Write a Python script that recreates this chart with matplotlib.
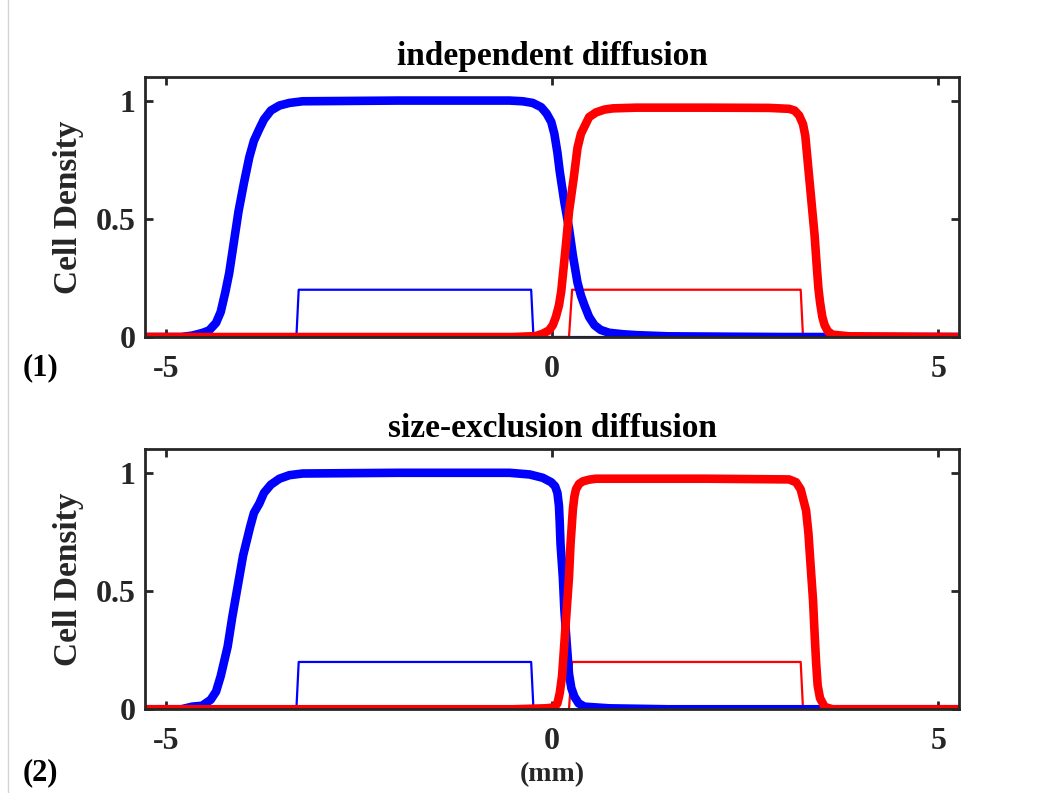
import matplotlib
matplotlib.use("Agg")
import matplotlib.pyplot as plt
from matplotlib.lines import Line2D

plt.rcParams['font.family'] = ['Liberation Serif', 'DejaVu Serif']
plt.rcParams['font.weight'] = 'bold'
plt.rcParams['axes.labelweight'] = 'bold'
plt.rcParams['axes.titleweight'] = 'bold'

# ---- data ----
titles = ["independent diffusion", "size-exclusion diffusion"]
panel_tags = ["(1)", "(2)"]
x_ticks = [-5, 0, 5]
y_ticks = [0, 0.5, 1]
y_tick_labels = ["0", "0.5", "1"]

# thin lines (initial profiles), same in both panels
thin_blue_x = [-5.27, -3.31, -3.28, -0.27, -0.24, 5.27]
thin_blue_y = [0, 0, 0.2, 0.2, 0, 0]
thin_red_x = [-5.27, 0.22, 0.26, 3.22, 3.25, 5.27]
thin_red_y = [0, 0, 0.2, 0.2, 0, 0]

# panel 1, thick lines
blue1_x = [-5.27, -4.80, -4.66, -4.53, -4.44, -4.35, -4.29, -4.23, -4.18, -4.12,
           -4.06, -3.99, -3.92, -3.86, -3.79, -3.73, -3.64, -3.53, -3.40, -3.23,
           -2.0, -1.0, -0.55, -0.38, -0.25, -0.14, -0.07, -0.01, 0.03, 0.07,
           0.10, 0.16, 0.22, 0.27, 0.33, 0.375, 0.42, 0.48, 0.55, 0.63,
           0.74, 0.91, 1.09, 1.5, 3.0, 5.27]
blue1_y = [0, 0, 0.006, 0.017, 0.028, 0.06, 0.106, 0.19, 0.27, 0.40,
           0.53, 0.65, 0.76, 0.83, 0.88, 0.92, 0.958, 0.979, 0.99, 0.997,
           1.0, 1.0, 1.0, 0.997, 0.99, 0.972, 0.945, 0.91, 0.86, 0.78,
           0.70, 0.57, 0.46, 0.345, 0.23, 0.175, 0.134, 0.085, 0.05, 0.03,
           0.018, 0.012, 0.008, 0.003, 0, 0]
red1_x = [-5.27, -0.5, -0.21, -0.12, -0.04, 0.01, 0.05, 0.09, 0.12, 0.14,
          0.18, 0.22, 0.28, 0.33, 0.375, 0.42, 0.48, 0.57, 0.68, 0.79,
          1.09, 2.0, 2.81, 3.07, 3.14, 3.20, 3.25, 3.28, 3.30, 3.32,
          3.36, 3.40, 3.43, 3.45, 3.47, 3.50, 3.53, 3.57, 3.63, 3.85, 5.27]
red1_y = [0, 0, 0.004, 0.014, 0.028, 0.05, 0.085, 0.134, 0.195, 0.26,
          0.39, 0.53, 0.67, 0.80, 0.86, 0.89, 0.93, 0.95, 0.962, 0.967,
          0.97, 0.97, 0.969, 0.965, 0.958, 0.937, 0.90, 0.85, 0.78, 0.71,
          0.57, 0.43, 0.29, 0.204, 0.148, 0.085, 0.05, 0.025, 0.01, 0.003, 0]

# panel 2, thick lines
blue2_x = [-5.27, -4.80, -4.66, -4.53, -4.42, -4.35, -4.29, -4.20, -4.14, -4.07,
           -4.00, -3.91, -3.86, -3.79, -3.73, -3.64, -3.53, -3.40, -3.23, -2.0,
           -1.0, -0.55, -0.29, -0.12, -0.01, 0.04, 0.07, 0.09, 0.10, 0.11,
           0.14, 0.16, 0.19, 0.22, 0.25, 0.29, 0.345, 0.42, 0.74, 1.5, 5.27]
blue2_y = [0, 0, 0.011, 0.015, 0.04, 0.075, 0.14, 0.265, 0.39, 0.52,
           0.65, 0.77, 0.83, 0.87, 0.915, 0.95, 0.975, 0.99, 0.997, 1.0,
           1.0, 1.0, 0.993, 0.979, 0.96, 0.943, 0.915, 0.86, 0.79, 0.70,
           0.56, 0.42, 0.28, 0.15, 0.09, 0.053, 0.025, 0.011, 0.004, 0.0, 0]
red2_x = [-5.27, -0.5, -0.08, 0.03, 0.07, 0.10, 0.13, 0.16, 0.19, 0.22,
          0.24, 0.27, 0.29, 0.31, 0.35, 0.40, 0.48, 0.57, 1.13, 2.0,
          3.07, 3.16, 3.22, 3.29, 3.32, 3.35, 3.38, 3.40, 3.42, 3.44,
          3.47, 3.53, 3.63, 5.27]
red2_y = [0, 0, 0.004, 0.008, 0.025, 0.068, 0.14, 0.28, 0.42, 0.56,
          0.70, 0.845, 0.90, 0.93, 0.953, 0.964, 0.971, 0.975, 0.975, 0.975,
          0.972, 0.96, 0.93, 0.84, 0.745, 0.60, 0.46, 0.32, 0.195, 0.10,
          0.047, 0.01, 0.0, 0]

thick = [(blue1_x, blue1_y, red1_x, red1_y), (blue2_x, blue2_y, red2_x, red2_y)]

fig = plt.figure(figsize=(10.44, 7.93), dpi=100)
fig.add_artist(Line2D([8 / 1044, 8 / 1044], [0, 1], transform=fig.transFigure,
                      color='#d4d4d4', lw=1))

axes_pos = [[0.1389, 0.575, 0.7797, 0.328], [0.1389, 0.1056, 0.7797, 0.328]]
tag_y = [1 - 368 / 793, 1 - 773 / 793]
dark = '#262626'

for i in range(2):
    ax = fig.add_axes(axes_pos[i])
    bx, by, rx, ry = thick[i]
    ax.plot(thin_blue_x, thin_blue_y, color='blue', lw=1.6)
    ax.plot(thin_red_x, thin_red_y, color='red', lw=1.6)
    ax.plot(bx, by, color='blue', lw=6.2, solid_joinstyle='round')
    ax.plot(rx, ry, color='red', lw=6.2, solid_joinstyle='round')

    ax.set_xlim(-5.27, 5.27)
    ax.set_ylim(0, 1.1)
    ax.set_xticks(x_ticks)
    ax.set_xticklabels([str(t) for t in x_ticks])
    ax.set_yticks(y_ticks)
    ax.set_yticklabels(y_tick_labels)
    ax.tick_params(direction='in', top=True, right=True, length=6, width=2,
                   color=dark, labelcolor=dark, labelsize=23)
    ax.tick_params(axis='x', pad=13)
    ax.tick_params(axis='y', pad=7)
    for s in ax.spines.values():
        s.set_color(dark)
        s.set_linewidth(2)
    ax.set_title(titles[i], fontsize=24, fontweight='bold', pad=8.5)
    ax.set_ylabel("Cell Density", fontsize=24, fontweight='bold', color=dark,
                  va='center')
    ax.yaxis.set_label_coords(-0.0946, 0.5)
    fig.text(40 / 1044, tag_y[i], panel_tags[i], fontsize=22, fontweight='bold',
             ha='center', va='center')
    if i == 1:
        ax.set_xlabel("(mm)", fontsize=20, fontweight='bold', color=dark,
                      labelpad=4)

fig.savefig("out.png", dpi=100)
